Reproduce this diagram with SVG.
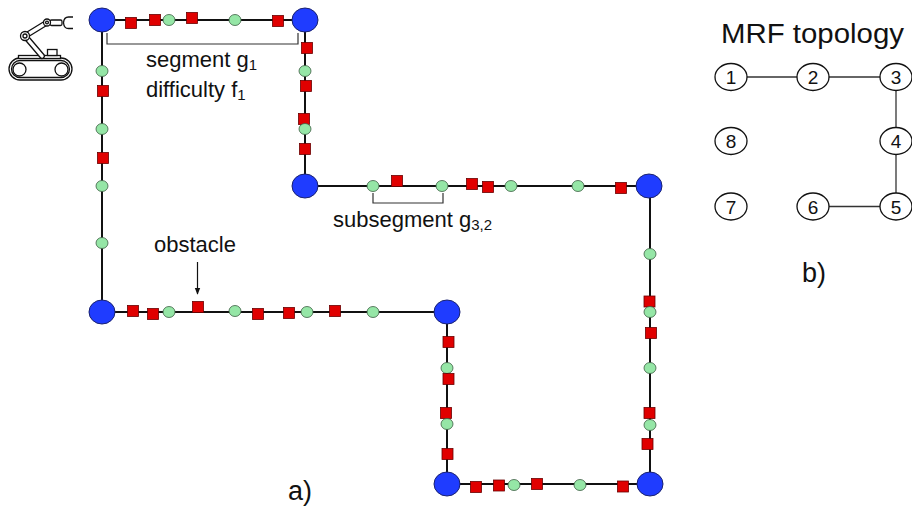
<svg xmlns="http://www.w3.org/2000/svg" xmlns:xlink="http://www.w3.org/1999/xlink" width="912" height="506" viewBox="0 0 912 506">
  <style>
    .path { fill: none; stroke: #111; stroke-width: 2; }
    .wp { fill: #1f3cff; stroke: #1a2270; stroke-width: 1; }
    .lbl { font-family: "Liberation Sans", Arial, sans-serif; font-size: 22px; fill: #111; }
    .sub { font-size: 15px; }
    .big { font-family: "Liberation Sans", Arial, sans-serif; font-size: 27px; fill: #111; }
    .brk { fill: none; stroke: #333; stroke-width: 1.2; }
    .mrf { fill: #fff; stroke: #111; stroke-width: 1.3; }
    .mrf-edge { stroke: #333; stroke-width: 1.3; }
    .num { font-family: "Liberation Sans", Arial, sans-serif; font-size: 19px; fill: #111; text-anchor: middle; }
    .rob { fill: #fff; stroke: #111; stroke-width: 1.3; }
  </style>
  <defs>
    <!-- obstacle square and subsegment boundary point -->
    <rect id="obs" x="-5.5" y="-5.5" width="11" height="11" fill="#e00000" stroke="#6a0000" stroke-width="0.8"/>
    <ellipse id="pt" cx="0" cy="0" rx="6" ry="5.5" fill="#95e6a6" stroke="#3f5f45" stroke-width="0.8"/>
    <marker id="arr" viewBox="0 0 10 10" refX="9" refY="5" markerWidth="6" markerHeight="6" orient="auto">
      <path d="M0,1 L10,5 L0,9 Z" fill="#111"/>
    </marker>
  </defs>

  <!-- robot icon -->
  <g id="robot">
    <rect class="rob" x="9" y="58" width="63" height="22" rx="11"/>
    <rect class="rob" x="11.5" y="60.5" width="58" height="17" rx="8.5"/>
    <circle class="rob" cx="19.5" cy="69.5" r="6.5"/>
    <circle class="rob" cx="61.5" cy="69.5" r="6.5"/>
    <rect class="rob" x="18.5" y="55.5" width="42" height="3"/>
    <rect class="rob" x="47.5" y="49.5" width="9.5" height="6"/>
    <line x1="25" y1="36" x2="42" y2="56" stroke="#111" stroke-width="6" stroke-linecap="round"/>
    <line x1="25" y1="36" x2="42" y2="56" stroke="#fff" stroke-width="3.4" stroke-linecap="round"/>
    <line x1="25" y1="36" x2="47" y2="22.5" stroke="#111" stroke-width="6" stroke-linecap="round"/>
    <line x1="25" y1="36" x2="47" y2="22.5" stroke="#fff" stroke-width="3.4" stroke-linecap="round"/>
    <circle class="rob" cx="25" cy="36" r="4.5"/>
    <circle class="rob" cx="25" cy="36" r="2"/>
    <rect class="rob" x="50" y="20" width="12" height="5.5" rx="1.5"/>
    <circle class="rob" cx="47" cy="22.5" r="3.5"/>
    <circle class="rob" cx="47" cy="22.5" r="1.4"/>
    <path class="rob" fill="none" d="M73,17 L68.5,17 Q64,17 63.5,22.7 Q64,28.5 68.5,28.5 L73,28.5"/>
  </g>

  <!-- route segments -->
  <g id="connectors">
    <polyline class="path" points="102,20 305,20 305,186 650,186 650,484 447,484 447,312 102,312 102,20"/>
  </g>

  <!-- obstacles and subsegment points along the route -->
  <g id="markers">
    <!-- segment 1 (top) -->
    <use href="#obs" x="131" y="23"/>
    <use href="#obs" x="155" y="20"/>
    <use href="#pt" x="169" y="20"/>
    <use href="#obs" x="192" y="18"/>
    <use href="#pt" x="235" y="20"/>
    <use href="#obs" x="278" y="21"/>
    <!-- segment 2 (down) -->
    <use href="#obs" x="307" y="48"/>
    <use href="#pt" x="305" y="71"/>
    <use href="#obs" x="306" y="86"/>
    <use href="#obs" x="304" y="119"/>
    <use href="#pt" x="305" y="129"/>
    <use href="#obs" x="305" y="149"/>
    <!-- segment 3 (middle) -->
    <use href="#pt" x="373" y="186"/>
    <use href="#obs" x="397" y="181"/>
    <use href="#pt" x="442" y="186"/>
    <use href="#obs" x="472" y="184"/>
    <use href="#obs" x="488" y="187"/>
    <use href="#pt" x="511" y="186"/>
    <use href="#pt" x="578" y="186"/>
    <use href="#obs" x="621" y="188"/>
    <!-- segment 4 (right) -->
    <use href="#pt" x="650" y="254"/>
    <use href="#obs" x="649.5" y="301.5"/>
    <use href="#pt" x="650" y="312"/>
    <use href="#obs" x="651" y="333"/>
    <use href="#pt" x="650" y="368"/>
    <use href="#obs" x="649.5" y="413"/>
    <use href="#pt" x="650" y="425"/>
    <use href="#obs" x="647.5" y="444"/>
    <!-- segment 5 (bottom) -->
    <use href="#obs" x="476" y="487"/>
    <use href="#obs" x="499" y="485.5"/>
    <use href="#pt" x="514" y="485"/>
    <use href="#obs" x="537" y="484"/>
    <use href="#pt" x="580" y="485"/>
    <use href="#obs" x="623" y="486.5"/>
    <!-- segment 6 (up) -->
    <use href="#obs" x="448.5" y="342"/>
    <use href="#pt" x="447" y="368"/>
    <use href="#obs" x="448.5" y="379"/>
    <use href="#obs" x="446" y="413"/>
    <use href="#pt" x="447" y="424"/>
    <use href="#obs" x="447.5" y="454"/>
    <!-- segment 7 (lower left) -->
    <use href="#obs" x="133" y="311"/>
    <use href="#obs" x="153" y="314"/>
    <use href="#pt" x="169" y="312"/>
    <use href="#obs" x="198" y="307"/>
    <use href="#pt" x="235" y="311"/>
    <use href="#obs" x="258" y="314"/>
    <use href="#obs" x="289" y="313"/>
    <use href="#pt" x="307" y="312"/>
    <use href="#obs" x="335" y="311"/>
    <use href="#pt" x="373" y="312"/>
    <!-- segment 8 (left) -->
    <use href="#pt" x="102" y="71"/>
    <use href="#obs" x="103" y="91"/>
    <use href="#pt" x="102" y="129"/>
    <use href="#obs" x="103" y="158"/>
    <use href="#pt" x="102" y="186"/>
    <use href="#pt" x="102" y="243"/>
  </g>

  <!-- waypoints -->
  <g id="wp-a"><ellipse class="wp" cx="102" cy="20" rx="13" ry="12"/></g>
  <g id="wp-b"><ellipse class="wp" cx="305" cy="20" rx="13" ry="12"/></g>
  <g id="wp-c"><ellipse class="wp" cx="305" cy="186" rx="13" ry="12"/></g>
  <g id="wp-d"><ellipse class="wp" cx="649" cy="186" rx="13" ry="12"/></g>
  <g id="wp-e"><ellipse class="wp" cx="650" cy="484" rx="13" ry="12"/></g>
  <g id="wp-f"><ellipse class="wp" cx="447" cy="484" rx="13" ry="12"/></g>
  <g id="wp-g"><ellipse class="wp" cx="447" cy="312" rx="13" ry="12"/></g>
  <g id="wp-h"><ellipse class="wp" cx="102" cy="312" rx="13" ry="12"/></g>

  <!-- annotations -->
  <g id="segment-label">
    <path class="brk" d="M107,33 V44 H298 V33"/>
    <text class="lbl" x="146" y="67">segment g<tspan class="sub" dy="3">1</tspan></text>
    <text class="lbl" x="146" y="97">difficulty f<tspan class="sub" dy="3">1</tspan></text>
  </g>
  <g id="subsegment-label">
    <path class="brk" d="M373,193 V203 H443 V193"/>
    <text class="lbl" x="333" y="227">subsegment g<tspan class="sub" dy="3">3,2</tspan></text>
  </g>
  <g id="obstacle-label">
    <text class="lbl" x="154" y="252">obstacle</text>
    <line x1="197.5" y1="262" x2="197.5" y2="294" stroke="#111" stroke-width="1.2" marker-end="url(#arr)"/>
  </g>
  <text class="big" x="288" y="500">a)</text>

  <!-- MRF topology -->
  <text class="big" x="721" y="43" textLength="183" lengthAdjust="spacingAndGlyphs">MRF topology</text>
  <g id="mrf-edges">
    <line class="mrf-edge" x1="747" y1="77" x2="797" y2="77"/>
    <line class="mrf-edge" x1="829" y1="77" x2="880" y2="77"/>
    <line class="mrf-edge" x1="896" y1="90.5" x2="896" y2="127.5"/>
    <line class="mrf-edge" x1="896" y1="154.5" x2="896" y2="193"/>
    <line class="mrf-edge" x1="829" y1="206.5" x2="880" y2="206.5"/>
  </g>
  <g id="mrf-1"><ellipse class="mrf" cx="731" cy="77" rx="16" ry="13.5"/><text class="num" x="731" y="84">1</text></g>
  <g id="mrf-2"><ellipse class="mrf" cx="813" cy="77" rx="16" ry="13.5"/><text class="num" x="813" y="84">2</text></g>
  <g id="mrf-3"><ellipse class="mrf" cx="896" cy="77" rx="16" ry="13.5"/><text class="num" x="896" y="84">3</text></g>
  <g id="mrf-4"><ellipse class="mrf" cx="896" cy="141" rx="16" ry="13.5"/><text class="num" x="896" y="148">4</text></g>
  <g id="mrf-5"><ellipse class="mrf" cx="896" cy="206.5" rx="16" ry="13.5"/><text class="num" x="896" y="213.5">5</text></g>
  <g id="mrf-6"><ellipse class="mrf" cx="813" cy="206.5" rx="16" ry="13.5"/><text class="num" x="813" y="213.5">6</text></g>
  <g id="mrf-7"><ellipse class="mrf" cx="731" cy="206.5" rx="16" ry="13.5"/><text class="num" x="731" y="213.5">7</text></g>
  <g id="mrf-8"><ellipse class="mrf" cx="731" cy="141" rx="16" ry="13.5"/><text class="num" x="731" y="148">8</text></g>
  <text class="big" x="802" y="282">b)</text>
</svg>
